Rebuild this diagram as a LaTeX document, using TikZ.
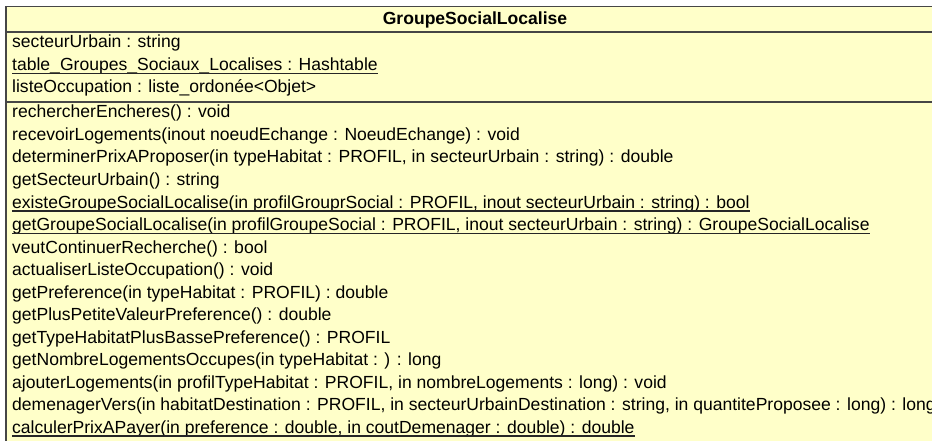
\documentclass[tikz,border=0pt]{standalone}
\usepackage{fontspec}
\setmainfont{Liberation Sans}
\definecolor{classfill}{RGB}{255,255,201}
\definecolor{classline}{RGB}{70,70,70}
\tikzset{
  classbox/.style={draw=classline, line width=1.6pt, fill=classfill},
  divider/.style={draw=classline, line width=1.8pt},
  member/.style={anchor=base west, inner sep=0pt, font=\fontsize{17.55}{20}\selectfont},
  classname/.style={anchor=base, inner sep=0pt, font=\fontsize{17.55}{20}\selectfont\bfseries},
  staticline/.style={draw=black!85, line width=1.1pt}
}
\begin{document}
\begin{tikzpicture}[x=1pt, y=-1pt]
  \useasboundingbox (0,0) rectangle (932,441);
  \clip (0,0) rectangle (932,441);
  % class frame and compartment separators
  \draw[classbox] (6,6.5) rectangle (944,452);
  \draw[divider] (6,32) -- (944,32);
  \draw[divider] (6,102) -- (944,102);
  % class name
  \node[classname] (name) at (475,25) {GroupeSocialLocalise};
  % attributes
  \node[member] (a1) at (12,48)   {secteurUrbain : string};
  \node[member] (a2) at (12,70.5) {table\_Groupes\_Sociaux\_Localises : Hashtable};
  \node[member] (a3) at (12,93)   {listeOccupation : liste\_ordonée<Objet>};
  % operations
  \node[member] (m1)  at (12,118)   {rechercherEncheres() : void};
  \node[member] (m2)  at (12,140.5) {recevoirLogements(inout noeudEchange : NoeudEchange) : void};
  \node[member] (m3)  at (12,163)   {determinerPrixAProposer(in typeHabitat : PROFIL, in secteurUrbain : string) : double};
  \node[member] (m4)  at (12,185.5) {getSecteurUrbain() : string};
  \node[member] (m5)  at (12,208)   {existeGroupeSocialLocalise(in profilGrouprSocial : PROFIL, inout secteurUrbain : string) : bool};
  \node[member] (m6)  at (12,230.5) {getGroupeSocialLocalise(in profilGroupeSocial : PROFIL, inout secteurUrbain : string) : GroupeSocialLocalise};
  \node[member] (m7)  at (12,253)   {veutContinuerRecherche() : bool};
  \node[member] (m8)  at (12,275.5) {actualiserListeOccupation() : void};
  \node[member] (m9)  at (12,298)   {getPreference(in typeHabitat : PROFIL) : double};
  \node[member] (m10) at (12,320.5) {getPlusPetiteValeurPreference() : double};
  \node[member] (m11) at (12,343)   {getTypeHabitatPlusBassePreference() : PROFIL};
  \node[member] (m12) at (12,365.5) {getNombreLogementsOccupes(in typeHabitat : ) : long};
  \node[member] (m13) at (12,388)   {ajouterLogements(in profilTypeHabitat : PROFIL, in nombreLogements : long) : void};
  \node[member] (m14) at (12,410.5) {demenagerVers(in habitatDestination : PROFIL, in secteurUrbainDestination : string, in quantiteProposee : long) : long};
  \node[member] (m15) at (12,433)   {calculerPrixAPayer(in preference : double, in coutDemenager : double) : double};
  % static members are underlined
  \foreach \n in {a2,m5,m6,m15}
    \draw[staticline] ([yshift=-3pt]\n.base west) -- ([yshift=-3pt]\n.base east);
\end{tikzpicture}
\end{document}
